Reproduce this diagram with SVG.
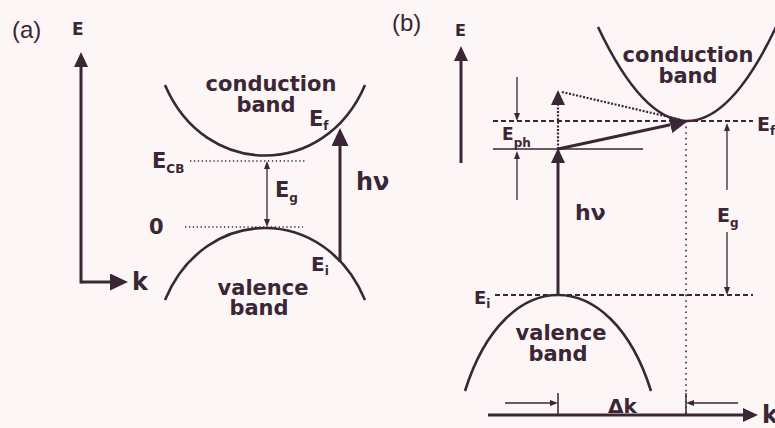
<svg xmlns="http://www.w3.org/2000/svg" width="775" height="428" viewBox="0 0 775 428">
<style>
.ink{stroke:#3a2634;fill:none}
.thick{stroke-width:3}
.curve{stroke-width:2.6}
.thin{stroke-width:1.3}
.dot{stroke-width:1.4;stroke-dasharray:1.3 2.6}
.dotb{stroke-width:2.2;stroke-dasharray:2 1.6}
.dotv{stroke-width:1.6;stroke-dasharray:1.6 4}
.dash{stroke-width:2;stroke-dasharray:5 3}
.t{font-family:"DejaVu Sans",sans-serif;font-weight:bold;fill:#3a2634}
.band{font-size:21px;text-anchor:middle}
.lbl{font-size:21px}
.sub{font-size:12px}
.paren{font-family:"Liberation Sans",Arial,sans-serif;font-size:24px;fill:#3a2634}
</style>
<defs>
<marker id="big" markerUnits="userSpaceOnUse" markerWidth="18" markerHeight="17" refX="0" refY="8.5" orient="auto" viewBox="0 0 18 17"><path d="M0,0 L18,8.5 L0,17 z" fill="#3a2634"/></marker>
<marker id="mid" markerUnits="userSpaceOnUse" markerWidth="15" markerHeight="14" refX="0" refY="7" orient="auto" viewBox="0 0 15 14"><path d="M0,0 L15,7 L0,14 z" fill="#3a2634"/></marker>
<marker id="sm" markerUnits="userSpaceOnUse" markerWidth="8" markerHeight="6" refX="0" refY="3" orient="auto" viewBox="0 0 8 6"><path d="M0,0 L8,3 L0,6 z" fill="#3a2634"/></marker>
</defs>
<rect width="775" height="428" fill="#fcf6f7"/>

<!-- Panel (a) -->
<g id="panel-a-label"><text class="paren" x="12" y="38">(a)</text></g>
<g id="a-axes">
<path class="ink thick" d="M81,283.5 L81,67" marker-end="url(#mid)"/>
<path class="ink thick" d="M81,282 L110,282" marker-end="url(#big)"/>
<text class="t" x="72" y="35" font-size="17">E</text>
<text class="t" x="132" y="290" font-size="24">k</text>
</g>
<g id="a-conduction-band">
<path class="ink curve" d="M165,85 C205,179 325,179 365,85"/>
<text class="t band" x="271" y="91">conduction</text>
<text class="t band" x="266" y="112">band</text>
</g>
<g id="a-valence-band">
<path class="ink curve" d="M165,300 C205,204 325,204 365,300"/>
<text class="t band" x="263" y="295">valence</text>
<text class="t band" x="259" y="315">band</text>
</g>
<g id="a-levels">
<path class="ink dot" d="M190,161 L307,161"/>
<text class="t lbl" x="152" y="168">E<tspan class="sub" dy="5">CB</tspan></text>
<path class="ink dot" d="M185,227 L303,227"/>
<text class="t lbl" x="149" y="234">0</text>
<text class="t lbl" x="309" y="126">E<tspan class="sub" dy="4">f</tspan></text>
<text class="t" x="311" y="271" font-size="20">E<tspan class="sub" dy="4">i</tspan></text>
</g>
<g id="a-connectors">
<path class="ink thin" d="M267,194 L267,169" marker-end="url(#sm)"/>
<path class="ink thin" d="M267,194 L267,219" marker-end="url(#sm)"/>
<path class="ink thick" d="M340,262 L340,146" marker-end="url(#big)"/>
</g>
<text class="t lbl" x="275" y="197">E<tspan class="sub" dy="5">g</tspan></text>
<text class="t" x="356" y="190" font-size="24">hν</text>

<!-- Panel (b) -->
<g id="panel-b-label"><text class="paren" x="392" y="31">(b)</text></g>
<g id="b-axes">
<path class="ink thick" d="M461,163 L461,61" marker-end="url(#mid)"/>
<text class="t" x="455" y="36" font-size="16">E</text>
<path class="ink thick" d="M488,415 L743,415" marker-end="url(#mid)"/>
<text class="t" x="762" y="423" font-size="24">k</text>
</g>
<g id="b-conduction-band">
<path class="ink curve" d="M598,27 Q687,215 776,27"/>
<text class="t band" x="688" y="62">conduction</text>
<text class="t band" x="688" y="83">band</text>
</g>
<g id="b-valence-band">
<path class="ink curve" d="M465,391 C505,263 611,263 651,391"/>
<text class="t band" x="561" y="340">valence</text>
<text class="t band" x="558" y="361">band</text>
</g>
<g id="b-levels">
<path class="ink dash" d="M493,121 L753,121"/>
<text class="t" x="757" y="131" font-size="19">E<tspan class="sub" dy="4">f</tspan></text>
<path class="ink" stroke-width="1.5" d="M493,149 L643,149"/>
<text class="t" x="502" y="140" font-size="17">E<tspan class="sub" dy="7">ph</tspan></text>
<path class="ink dash" d="M495,295 L753,295"/>
<text class="t" x="474" y="304" font-size="18">E<tspan class="sub" dy="4">i</tspan></text>
<path class="ink dotv" d="M686,121 L686,415"/>
</g>
<g id="b-connectors">
<path class="ink thin" d="M517,77 L517,113" marker-end="url(#sm)"/>
<path class="ink thin" d="M517,200 L517,159" marker-end="url(#sm)"/>
<path class="ink thick" d="M558,296 L558,163" marker-end="url(#mid)"/>
<path class="ink dotb" d="M558,149 L558,105" marker-end="url(#mid)"/>
<path class="ink dotb" d="M562,92 L682,120"/>
<path class="ink thick" d="M558,149 L670.4,124.8" marker-end="url(#big)"/>
<path class="ink thin" d="M727,190 L727,131" marker-end="url(#sm)"/>
<path class="ink thin" d="M727,232 L727,287" marker-end="url(#sm)"/>
<path class="ink" stroke-width="1.5" d="M558,393 L558,415"/>
<path class="ink" stroke-width="1.5" d="M686,393 L686,415"/>
<path class="ink thin" d="M505,403 L550,403" marker-end="url(#sm)"/>
<path class="ink thin" d="M738,403 L694,403" marker-end="url(#sm)"/>
</g>
<text class="t" x="575" y="220" font-size="22">hν</text>
<text class="t" x="717" y="222" font-size="19">E<tspan class="sub" dy="5">g</tspan></text>
<text class="t" x="608" y="413" font-size="20">Δk</text>
</svg>
